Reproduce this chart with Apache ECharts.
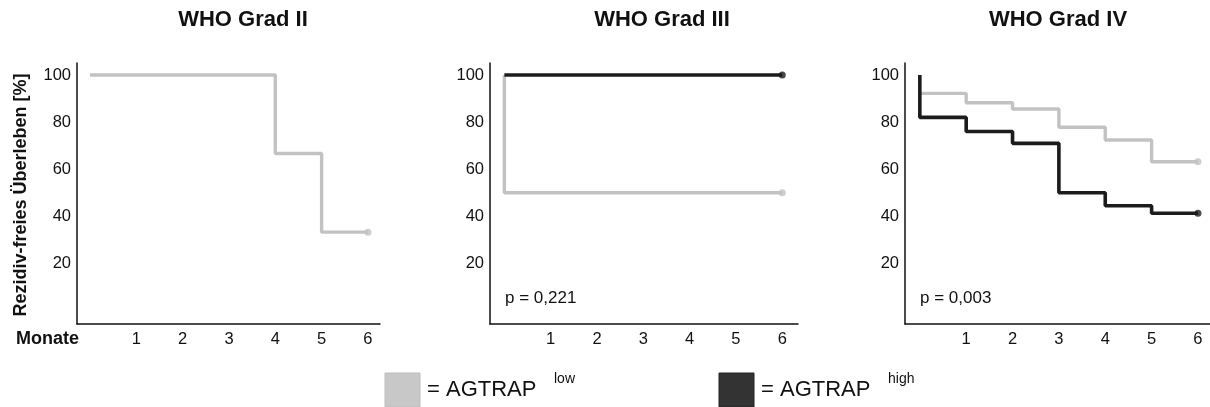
<!DOCTYPE html>
<html>
<head>
<meta charset="utf-8">
<script src="https://cdn.jsdelivr.net/npm/echarts@6/dist/echarts.min.js"></script>
<style>html,body{margin:0;padding:0;background:#fff;}#c{width:1210px;height:407px;}</style>
</head>
<body>
<div id="c"></div>
<script>
const FONT = '"Liberation Sans", Arial, Helvetica, sans-serif';
const monthTicks = [1, 2, 3, 4, 5, 6];
const yTicks = [20, 40, 60, 80, 100];
const titles = ['WHO Grad II', 'WHO Grad III', 'WHO Grad IV'];
const pValues = [null, 'p = 0,221', 'p = 0,003'];

// Grad II
const g2LowTime = [0, 4, 5, 6];
const g2Low = [100, 66.7, 33.3, 33.3];
// Grad III
const g3LowTime = [0, 0, 6];
const g3Low = [100, 50, 50];
const g3HighTime = [0, 6];
const g3High = [100, 100];
// Grad IV
const g4LowTime = [0, 1, 2, 3, 4, 5, 6];
const g4Low = [92.2, 88.2, 85.6, 77.8, 72.4, 63.2, 63.2];
const g4HighTime = [0, 0, 1, 2, 3, 4, 5, 6];
const g4High = [100, 82, 76, 71, 50, 44.5, 41.3, 41.3];

const LOW = '#c2c2c2', HIGH = '#1c1c1c';

const zip = (t, v) => t.map((x, i) => [x, v[i]]);

const grids = [
  {left: 77, top: 63, width: 303, height: 261, xmin: -0.28, xmax: 6.26},
  {left: 490, top: 63, width: 308, height: 261, xmin: -0.31, xmax: 6.34},
  {left: 905, top: 63, width: 305, height: 261, xmin: -0.32, xmax: 6.26}
];

const curves = [
  [{t: g2LowTime, v: g2Low, c: LOW, w: 3.4}],
  [{t: g3LowTime, v: g3Low, c: LOW, w: 3.4}, {t: g3HighTime, v: g3High, c: HIGH, w: 3.6}],
  [{t: g4LowTime, v: g4Low, c: LOW, w: 3.4}, {t: g4HighTime, v: g4High, c: HIGH, w: 3.6}]
];

const axisLine = {show: true, onZero: false, lineStyle: {color: '#111', width: 1.5}};

const option = {
  animation: false,
  grid: grids.map(g => ({left: g.left, top: g.top, width: g.width, height: g.height})),
  xAxis: grids.map((g, i) => ({
    type: 'value', gridIndex: i, min: g.xmin, max: g.xmax,
    axisLine: axisLine, axisTick: {show: false}, splitLine: {show: false},
    axisLabel: {customValues: monthTicks, margin: 7, color: '#111', fontSize: 16.5, fontFamily: FONT}
  })),
  yAxis: grids.map((g, i) => ({
    type: 'value', gridIndex: i, min: -5.7, max: 105.1,
    axisLine: axisLine, axisTick: {show: false}, splitLine: {show: false},
    axisLabel: {customValues: yTicks, margin: 6, color: '#111', fontSize: 16.5, fontFamily: FONT, padding: [8, 0, 0, 0]}
  })),
  series: [],
  graphic: []
};

curves.forEach((list, gi) => {
  list.forEach(cv => {
    option.series.push({
      type: 'line', xAxisIndex: gi, yAxisIndex: gi, step: 'end',
      data: zip(cv.t, cv.v), symbol: 'none',
      lineStyle: {color: cv.c, width: cv.w}, z: cv.c === HIGH ? 3 : 2
    });
    option.series.push({
      type: 'scatter', xAxisIndex: gi, yAxisIndex: gi,
      data: [[cv.t[cv.t.length - 1], cv.v[cv.v.length - 1]]],
      symbol: 'circle', symbolSize: 7, itemStyle: {color: cv.c}, z: 4
    });
  });
});

const titleX = [243, 662, 1058];
titles.forEach((t, i) => {
  option.graphic.push({type: 'text', x: titleX[i], y: 20,
    style: {text: t, font: 'bold 22px ' + FONT, fill: '#111', textAlign: 'center', textVerticalAlign: 'middle'}});
});
const pX = [0, 505, 920];
pValues.forEach((p, i) => {
  if (!p) return;
  option.graphic.push({type: 'text', x: pX[i], y: 298,
    style: {text: p, font: '17px ' + FONT, fill: '#111', textAlign: 'left', textVerticalAlign: 'middle'}});
});
option.graphic.push({type: 'text', x: 21, y: 195, rotation: Math.PI / 2,
  style: {text: 'Rezidiv-freies Überleben [%]', font: 'bold 18px ' + FONT, fill: '#111', textAlign: 'center', textVerticalAlign: 'middle'}});
option.graphic.push({type: 'text', x: 16, y: 339,
  style: {text: 'Monate', font: 'bold 18px ' + FONT, fill: '#111', textAlign: 'left', textVerticalAlign: 'middle'}});

// legend
const legendItems = [
  {x: 385, fill: '#c8c8c8', stroke: '#bdbdbd', sup: 'low'},
  {x: 719, fill: '#333333', stroke: '#222222', sup: 'high'}
];
legendItems.forEach(it => {
  option.graphic.push({type: 'rect', shape: {x: it.x, y: 373, width: 35, height: 34},
    style: {fill: it.fill, stroke: it.stroke, lineWidth: 1}});
  option.graphic.push({type: 'text', x: it.x + 42, y: 390,
    style: {text: '= AGTRAP', font: '22px ' + FONT, fill: '#111', textAlign: 'left', textVerticalAlign: 'middle'}});
  option.graphic.push({type: 'text', x: it.x + 169, y: 379,
    style: {text: it.sup, font: '14px ' + FONT, fill: '#111', textAlign: 'left', textVerticalAlign: 'middle'}});
});

const chart = echarts.init(document.getElementById('c'), null, {renderer: 'canvas'});
chart.setOption(option);
</script>
</body>
</html>
